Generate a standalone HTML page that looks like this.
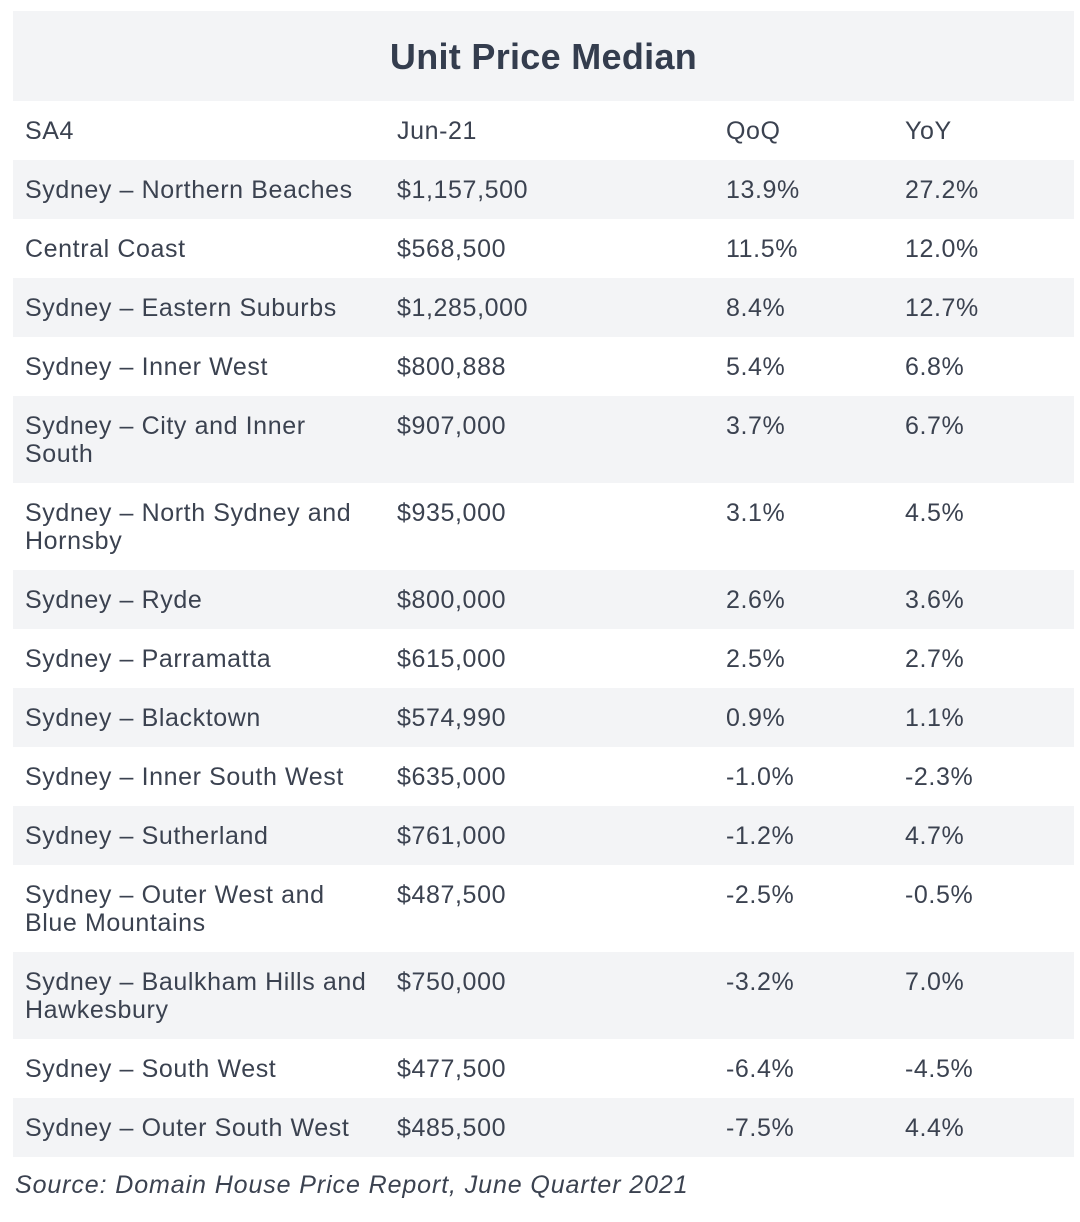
<!DOCTYPE html>
<html><head><meta charset="utf-8">
<style>
body{margin:0;width:1080px;height:1222px;background:#fff;font-family:"Liberation Sans",sans-serif;color:#3b4250;position:relative;overflow:hidden}
.title{position:absolute;left:13px;top:11px;width:1061px;height:90px;background:#f3f4f6;text-align:center;line-height:92px;font-size:36px;font-weight:bold;color:#343d4e;letter-spacing:0.3px}
table{position:absolute;left:13px;top:101px;width:1061px;border-collapse:collapse;table-layout:fixed}
td{padding:16px 0 15px 12px;font-size:25px;letter-spacing:0.6px;line-height:28px;height:28px;vertical-align:top;white-space:nowrap}
tr:nth-child(even) td{background:#f3f4f6}
.src{position:absolute;left:15px;top:1171px;font-size:25px;letter-spacing:0.9px;font-style:italic;color:#3b4250}
</style></head><body>
<div class="title">Unit Price Median</div>
<table>
<colgroup><col style="width:372px"><col style="width:329px"><col style="width:179px"><col style="width:181px"></colgroup>
<tr><td>SA4</td><td>Jun-21</td><td>QoQ</td><td>YoY</td></tr>
<tr><td>Sydney – Northern Beaches</td><td>$1,157,500</td><td>13.9%</td><td>27.2%</td></tr>
<tr><td>Central Coast</td><td>$568,500</td><td>11.5%</td><td>12.0%</td></tr>
<tr><td>Sydney – Eastern Suburbs</td><td>$1,285,000</td><td>8.4%</td><td>12.7%</td></tr>
<tr><td>Sydney – Inner West</td><td>$800,888</td><td>5.4%</td><td>6.8%</td></tr>
<tr><td>Sydney – City and Inner<br>South</td><td>$907,000</td><td>3.7%</td><td>6.7%</td></tr>
<tr><td>Sydney – North Sydney and<br>Hornsby</td><td>$935,000</td><td>3.1%</td><td>4.5%</td></tr>
<tr><td>Sydney – Ryde</td><td>$800,000</td><td>2.6%</td><td>3.6%</td></tr>
<tr><td>Sydney – Parramatta</td><td>$615,000</td><td>2.5%</td><td>2.7%</td></tr>
<tr><td>Sydney – Blacktown</td><td>$574,990</td><td>0.9%</td><td>1.1%</td></tr>
<tr><td>Sydney – Inner South West</td><td>$635,000</td><td>-1.0%</td><td>-2.3%</td></tr>
<tr><td>Sydney – Sutherland</td><td>$761,000</td><td>-1.2%</td><td>4.7%</td></tr>
<tr><td>Sydney – Outer West and<br>Blue Mountains</td><td>$487,500</td><td>-2.5%</td><td>-0.5%</td></tr>
<tr><td>Sydney – Baulkham Hills and<br>Hawkesbury</td><td>$750,000</td><td>-3.2%</td><td>7.0%</td></tr>
<tr><td>Sydney – South West</td><td>$477,500</td><td>-6.4%</td><td>-4.5%</td></tr>
<tr><td>Sydney – Outer South West</td><td>$485,500</td><td>-7.5%</td><td>4.4%</td></tr>
</table>
<div class="src">Source: Domain House Price Report, June Quarter 2021</div>
</body></html>
